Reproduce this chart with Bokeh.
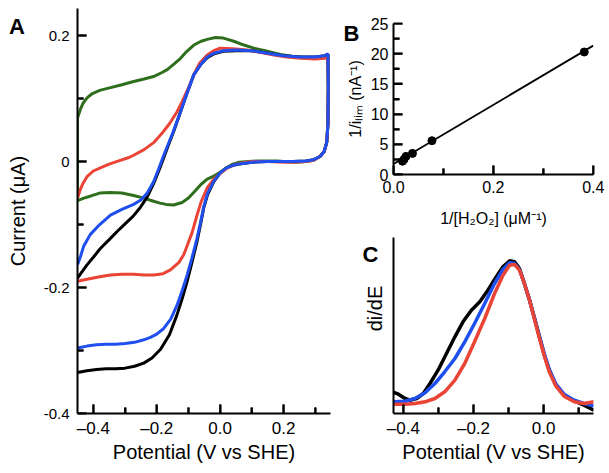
import math
from bokeh.plotting import figure
from bokeh.models import FixedTicker, Div
from bokeh.core.properties import value
from bokeh.layouts import row, column
from bokeh.embed import file_html
from bokeh.resources import INLINE

FONT = "Liberation Sans"

# ---------------- Panel A: cyclic voltammograms ----------------
green_E = [-0.450, -0.440, -0.432, -0.420, -0.403, -0.380, -0.349, -0.310, -0.273, -0.240,
           -0.210, -0.185, -0.167, -0.145, -0.125, -0.105, -0.083, -0.060, -0.041, -0.015,
           0.010, 0.043, 0.075, 0.106, 0.148, 0.190, 0.230, 0.270, 0.310, 0.333, 0.340,
           0.341, 0.340, 0.336, 0.328, 0.315, 0.295, 0.270, 0.240, 0.200, 0.180, 0.150,
           0.120, 0.090, 0.060, 0.040, 0.020, 0.000, -0.020, -0.041, -0.060, -0.080,
           -0.100, -0.120, -0.147, -0.170, -0.190, -0.210, -0.241, -0.273, -0.310, -0.346,
           -0.380, -0.410, -0.430, -0.450, -0.450]
green_I = [0.069, 0.084, 0.093, 0.101, 0.108, 0.113, 0.117, 0.122, 0.127, 0.131,
           0.135, 0.141, 0.146, 0.155, 0.164, 0.175, 0.185, 0.191, 0.194, 0.197,
           0.196, 0.191, 0.185, 0.180, 0.175, 0.170, 0.167, 0.165, 0.165, 0.167, 0.170,
           0.120, 0.060, 0.030, 0.016, 0.008, 0.002, 0.000, -0.001, 0.000, 0.001, 0.001,
           0.001, 0.000, -0.001, -0.004, -0.010, -0.017, -0.023, -0.028, -0.036, -0.047,
           -0.058, -0.065, -0.069, -0.068, -0.066, -0.063, -0.058, -0.054, -0.050, -0.049,
           -0.050, -0.055, -0.058, -0.062, 0.069]

red_E = [-0.450, -0.440, -0.432, -0.420, -0.400, -0.378, -0.350, -0.320, -0.290, -0.273,
         -0.240, -0.210, -0.199, -0.180, -0.160, -0.136, -0.120, -0.100, -0.083, -0.065,
         -0.041, -0.020, 0.000, 0.040, 0.085, 0.130, 0.169, 0.210, 0.254, 0.300, 0.330, 0.340,
         0.341, 0.340, 0.336, 0.328, 0.315, 0.295, 0.270, 0.230, 0.200, 0.150, 0.100,
         0.060, 0.040, 0.020, 0.000, -0.020, -0.041, -0.060, -0.073, -0.088, -0.100,
         -0.115, -0.130, -0.157, -0.180, -0.210, -0.240, -0.273, -0.310, -0.346, -0.380,
         -0.420, -0.450]
red_I = [-0.058, -0.043, -0.034, -0.024, -0.015, -0.010, -0.004, 0.001, 0.006, 0.010,
         0.019, 0.030, 0.036, 0.047, 0.060, 0.079, 0.095, 0.117, 0.138, 0.156,
         0.169, 0.176, 0.180, 0.179, 0.177, 0.173, 0.169, 0.166, 0.164, 0.163, 0.164, 0.166,
         0.120, 0.060, 0.030, 0.016, 0.008, 0.002, 0.000, -0.001, -0.001, 0.000, 0.000,
         -0.003, -0.006, -0.011, -0.019, -0.028, -0.042, -0.064, -0.085, -0.112, -0.128,
         -0.148, -0.160, -0.172, -0.178, -0.180, -0.180, -0.179, -0.179, -0.180, -0.183,
         -0.187, -0.190]

black_E = [-0.450, -0.440, -0.420, -0.400, -0.378, -0.350, -0.325, -0.300, -0.275, -0.252,
           -0.230, -0.210, -0.190, -0.167, -0.145, -0.125, -0.105, -0.083, -0.060, -0.041,
           -0.020, 0.010, 0.050, 0.100, 0.150, 0.200, 0.250, 0.300, 0.330, 0.340,
           0.341, 0.340, 0.336, 0.328, 0.315, 0.295, 0.270, 0.230, 0.200, 0.150, 0.100,
           0.060, 0.040, 0.020, 0.000, -0.020, -0.040, -0.052, -0.062, -0.073, -0.090,
           -0.104, -0.120, -0.136, -0.160, -0.188, -0.215, -0.241, -0.270, -0.300, -0.330,
           -0.360, -0.390, -0.420, -0.450]
black_I = [-0.185, -0.178, -0.164, -0.152, -0.138, -0.124, -0.111, -0.099, -0.087, -0.073,
           -0.056, -0.035, -0.010, 0.021, 0.050, 0.079, 0.108, 0.138, 0.155, 0.165,
           0.171, 0.175, 0.176, 0.176, 0.172, 0.168, 0.166, 0.166, 0.168, 0.170,
           0.120, 0.060, 0.030, 0.016, 0.008, 0.003, 0.001, 0.000, 0.000, 0.000, -0.001,
           -0.004, -0.006, -0.010, -0.018, -0.032, -0.053, -0.074, -0.100, -0.127, -0.162,
           -0.190, -0.218, -0.243, -0.275, -0.298, -0.312, -0.320, -0.325, -0.328, -0.329,
           -0.329, -0.330, -0.332, -0.335]

blue_E = [-0.450, -0.440, -0.431, -0.420, -0.410, -0.380, -0.346, -0.310, -0.273, -0.250,
          -0.230, -0.210, -0.195, -0.178, -0.150, -0.125, -0.105, -0.083, -0.060, -0.041,
          -0.020, 0.010, 0.050, 0.100, 0.150, 0.200, 0.250, 0.300, 0.330, 0.340,
          0.341, 0.340, 0.336, 0.328, 0.315, 0.295, 0.270, 0.230, 0.200, 0.150, 0.100,
          0.060, 0.040, 0.020, 0.000, -0.020, -0.040, -0.052, -0.062, -0.073, -0.090,
          -0.104, -0.120, -0.136, -0.156, -0.178, -0.200, -0.220, -0.241, -0.270, -0.300,
          -0.330, -0.360, -0.390, -0.420, -0.450]
blue_I = [-0.164, -0.150, -0.135, -0.125, -0.116, -0.100, -0.085, -0.076, -0.068, -0.061,
          -0.050, -0.032, -0.013, 0.010, 0.045, 0.079, 0.108, 0.138, 0.155, 0.166,
          0.172, 0.176, 0.177, 0.176, 0.172, 0.168, 0.166, 0.166, 0.168, 0.171,
          0.120, 0.060, 0.030, 0.016, 0.008, 0.003, 0.001, 0.000, 0.000, 0.000, -0.001,
          -0.004, -0.006, -0.010, -0.018, -0.031, -0.051, -0.072, -0.097, -0.122, -0.155,
          -0.180, -0.205, -0.228, -0.250, -0.265, -0.274, -0.279, -0.283, -0.287, -0.289,
          -0.290, -0.290, -0.291, -0.293, -0.296]

a_xticks = [-0.4, -0.2, 0.0, 0.2]
a_xticklabels = ["\u20130.4", "\u20130.2", "0.0", "0.2"]
a_xminor = [-0.3, -0.1, 0.1, 0.3]
a_yticks = [-0.4, -0.2, 0.0, 0.2]
a_yticklabels = ["-0.4", "-0.2", "0", "0.2"]
a_yminor = [-0.3, -0.1, 0.1]

# ---------------- Panel B: double reciprocal plot ----------------
b_x = [0.018, 0.021, 0.025, 0.038, 0.077, 0.382]
b_y = [2.2, 2.5, 3.0, 3.5, 5.6, 20.3]
fit_x = [0.0, 0.4]
fit_y = [1.75, 21.35]
b_xticks = [0.0, 0.2, 0.4]
b_xticklabels = ["0.0", "0.2", "0.4"]
b_xminor = [0.1, 0.3]
b_yticks = [0, 5, 10, 15, 20, 25]
b_yticklabels = ["0", "5", "10", "15", "20", "25"]
b_yminor = [2.5, 7.5, 12.5, 17.5, 22.5]

# ---------------- Panel C: derivative di/dE ----------------
c_black_E = [-0.431, -0.414, -0.395, -0.381, -0.362, -0.343, -0.324, -0.301, -0.277, -0.253,
             -0.230, -0.206, -0.182, -0.159, -0.135, -0.116, -0.097, -0.083, -0.069, -0.055,
             -0.040, -0.026, -0.012, 0.002, 0.016, 0.035, 0.058, 0.087, 0.115, 0.143]
c_black_y = [21.7, 19.3, 15.0, 13.3, 15.0, 20.0, 30.0, 43.3, 60.0, 76.7,
             91.7, 103.3, 111.7, 123.3, 136.7, 146.7, 152.7, 151.7, 145.0, 130.0,
             113.3, 95.0, 76.7, 58.3, 43.3, 28.3, 18.3, 12.7, 8.3, 3.3]
c_blue_E = [-0.428, -0.395, -0.367, -0.338, -0.310, -0.282, -0.253, -0.225, -0.197, -0.168,
            -0.140, -0.116, -0.097, -0.083, -0.069, -0.055, -0.040, -0.026, -0.012, 0.002,
            0.016, 0.035, 0.058, 0.087, 0.115, 0.143]
c_blue_y = [11.7, 12.3, 15.0, 20.7, 30.0, 41.7, 55.0, 71.7, 90.0, 110.0,
            130.0, 144.0, 150.7, 150.0, 144.0, 130.0, 112.7, 95.0, 76.7, 59.3,
            44.0, 29.3, 19.3, 13.3, 10.0, 7.7]
c_red_E = [-0.428, -0.395, -0.367, -0.338, -0.310, -0.282, -0.253, -0.225, -0.197, -0.168,
           -0.140, -0.116, -0.097, -0.083, -0.069, -0.055, -0.040, -0.026, -0.012, 0.002,
           0.016, 0.035, 0.058, 0.087, 0.115, 0.143]
c_red_y = [9.3, 9.3, 10.0, 11.7, 15.0, 21.7, 33.3, 50.0, 71.7, 95.0,
           120.0, 138.3, 148.3, 149.0, 143.3, 130.0, 112.7, 94.0, 75.0, 57.3,
           41.7, 27.3, 17.3, 11.7, 10.0, 11.7]
c_xticks = [-0.4, -0.2, 0.0]
c_xticklabels = ["\u20130.4", "\u20130.2", "0.0"]
c_xminor = [-0.3, -0.1, 0.1]

GREEN = "#2f6e1c"
RED = "#ea4436"
BLUE = "#1f4fee"
BLACK = "#000000"


def base_style(p):
    p.outline_line_color = None
    p.background_fill_color = "white"
    p.border_fill_color = "white"
    p.xgrid.visible = False
    p.ygrid.visible = False
    for ax in (p.xaxis[0], p.yaxis[0]):
        ax.axis_line_width = 2
        ax.axis_line_color = "black"
        ax.major_tick_in = 9
        ax.major_tick_out = 0
        ax.minor_tick_in = 6
        ax.minor_tick_out = 0
        ax.major_tick_line_color = "black"
        ax.minor_tick_line_color = "black"
        ax.major_tick_line_width = 2
        ax.minor_tick_line_width = 2
        ax.major_label_text_font = FONT
        ax.axis_label_text_font = FONT
        ax.axis_label_text_font_style = "normal"
        ax.major_label_text_color = "black"
        ax.axis_label_text_color = "black"


def inner_ticks(p, xr, yr, fw, fh, xt, xm, yt, ym):
    """Inward-pointing tick marks at the tick values; lengths given in pixels."""
    px = (xr[1] - xr[0]) / fw
    py = (yr[1] - yr[0]) / fh
    x0, y0, x1, y1 = [], [], [], []
    for ts, ln in ((xt, 9), (xm, 6)):
        for t in ts:
            x0.append(t); x1.append(t)
            y0.append(yr[0] - 2 * py); y1.append(yr[0] + ln * py)
    for ts, ln in ((yt, 9), (ym, 6)):
        for t in ts:
            y0.append(t); y1.append(t)
            x0.append(xr[0] - 2 * px); x1.append(xr[0] + ln * px)
    if x0:
        p.segment(x0=x0, y0=y0, x1=x1, y1=y1, line_color="black", line_width=2)


def glyph_text(p, text, x, y, dx, dy, size, bold=True, angle=0.0,
               align="left", baseline="top"):
    p.text(x=[x], y=[y], text=[text], x_offset=dx, y_offset=dy, angle=angle,
           text_font=value(FONT), text_font_style="bold" if bold else "normal",
           text_font_size=size, text_align=align, text_baseline=baseline,
           text_color="black", level="overlay")


# ---- A ----
A_X = (-0.45, 0.348)
A_Y = (-0.4, 0.243)
pA = figure(width=340, height=473, x_range=A_X, y_range=A_Y,
            output_backend="svg", toolbar_location=None,
            min_border_left=77, min_border_right=10, min_border_top=8, min_border_bottom=60)
base_style(pA)
pA.xaxis.ticker = FixedTicker(ticks=a_xticks, minor_ticks=a_xminor)
pA.xaxis.major_label_overrides = dict(zip(a_xticks, a_xticklabels))
pA.yaxis.ticker = FixedTicker(ticks=a_yticks, minor_ticks=a_yminor)
pA.yaxis.major_label_overrides = dict(zip(a_yticks, a_yticklabels))
pA.xaxis.major_label_text_font_size = "17px"
pA.yaxis.major_label_text_font_size = "15px"
pA.xaxis.major_label_standoff = 5
pA.yaxis.major_label_standoff = 8
pA.xaxis.axis_label = "Potential (V vs SHE)"
pA.yaxis.axis_label = "Current (\u03bcA)"
pA.xaxis.axis_label_text_font_size = "20px"
pA.yaxis.axis_label_text_font_size = "20px"
pA.xaxis.axis_label_standoff = 0
pA.yaxis.axis_label_standoff = 12
pA.line(green_E, green_I, line_color=GREEN, line_width=3)
pA.line(black_E, black_I, line_color=BLACK, line_width=3)
pA.line(red_E, red_I, line_color=RED, line_width=3)
pA.line(blue_E, blue_I, line_color=BLUE, line_width=3)
inner_ticks(pA, A_X, A_Y, 253, 405, a_xticks, a_xminor, a_yticks, a_yminor)

# ---- B ----
B_X = (0.0, 0.4005)
B_Y = (0.0, 25.02)
pB = figure(width=269, height=232, x_range=B_X, y_range=B_Y,
            output_backend="svg", toolbar_location=None,
            min_border_left=53, min_border_right=15, min_border_top=23, min_border_bottom=58)
base_style(pB)
pB.xaxis.ticker = FixedTicker(ticks=b_xticks, minor_ticks=b_xminor)
pB.xaxis.major_label_overrides = dict(zip(b_xticks, b_xticklabels))
pB.yaxis.ticker = FixedTicker(ticks=b_yticks, minor_ticks=b_yminor)
pB.yaxis.major_label_overrides = dict(zip(b_yticks, b_yticklabels))
pB.xaxis.major_label_text_font_size = "16px"
pB.yaxis.major_label_text_font_size = "16px"
pB.xaxis.major_label_standoff = 6
pB.yaxis.major_label_standoff = 5
pB.xaxis.axis_label = "1/[H\u2082O\u2082] (\u03bcM\u207b\u00b9)"
pB.yaxis.axis_label = "1/i\u2097\u1d62\u2098 (nA\u207b\u00b9)"
pB.xaxis.axis_label_text_font_size = "16px"
pB.yaxis.axis_label_text_font_size = "16px"
pB.xaxis.axis_label_standoff = 14
pB.yaxis.axis_label_standoff = 4
pB.line(fit_x, fit_y, line_color="black", line_width=1.8)
pB.scatter(b_x, b_y, size=8, fill_color="black", line_color="black")
inner_ticks(pB, B_X, B_Y, 201, 151, b_xticks, b_xminor, b_yticks, b_yminor)
glyph_text(pB, "B", B_X[0] + 1e-4, B_Y[1] - 1e-2, -50, -3, "22px")

# ---- C ----
C_X = (-0.428, 0.142)
C_Y = (0.0, 176.0)
pC = figure(width=269, height=241, x_range=C_X, y_range=C_Y,
            output_backend="svg", toolbar_location=None,
            min_border_left=51, min_border_right=16, min_border_top=5, min_border_bottom=60)
base_style(pC)
pC.xaxis.ticker = FixedTicker(ticks=c_xticks, minor_ticks=c_xminor)
pC.xaxis.major_label_overrides = dict(zip(c_xticks, c_xticklabels))
pC.yaxis.ticker = FixedTicker(ticks=[], minor_ticks=[])
pC.yaxis.major_label_standoff = 0
pC.xaxis.major_label_text_font_size = "17px"
pC.xaxis.major_label_standoff = 5
pC.xaxis.axis_label = "Potential (V vs SHE)"
pC.yaxis.axis_label = " "
pC.xaxis.axis_label_text_font_size = "20px"
pC.yaxis.axis_label_text_font_size = "20px"
pC.xaxis.axis_label_standoff = 0
pC.yaxis.axis_label_standoff = 8
pC.line(c_black_E, c_black_y, line_color=BLACK, line_width=3.5)
pC.line(c_blue_E, c_blue_y, line_color=BLUE, line_width=3.5)
pC.line(c_red_E, c_red_y, line_color=RED, line_width=3.5)
inner_ticks(pC, C_X, C_Y, 202, 176, c_xticks, c_xminor, [], [])
glyph_text(pC, "C", C_X[0] + 1e-4, C_Y[1] - 1e-2, -31, 4, "22px")
glyph_text(pC, "di/dE", C_X[0] + 1e-4, 105.0, -19, 0, "20px", bold=False,
           angle=math.pi / 2, align="center", baseline="middle")

LETTER_CSS = {"position": "absolute", "font-family": FONT, "font-weight": "bold",
              "font-size": "22px", "color": "black", "z-index": "10", "line-height": "1"}
divA = Div(text="A", width=20, height=24, styles=dict(LETTER_CSS, left="4px", top="11px"))

layout = row(pA, column(pB, pC), divA)
open("out.html", "w").write(file_html(layout, INLINE))
